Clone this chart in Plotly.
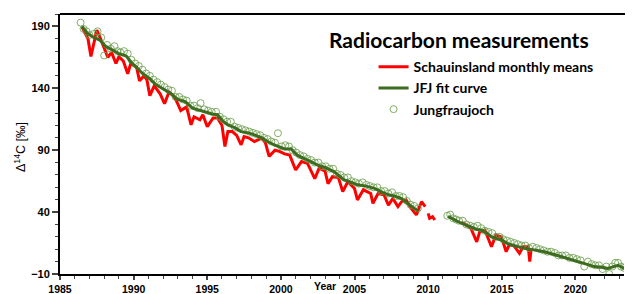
import plotly.graph_objects as go

# Schauinsland monthly means (None = data gap)
sch_year = [1986.5, 1986.7, 1986.9, 1987.1, 1987.3, 1987.5, 1987.8, 1988.0, 1988.25, 1988.5,
            1988.8, 1989.0, 1989.3, 1989.6, 1989.8, 1990.2, 1990.4, 1990.7, 1990.9, 1991.1,
            1991.4, 1991.8, 1992.1, 1992.4, 1992.7, 1992.9, 1993.2, 1993.6, 1993.9, 1994.1,
            1994.5, 1994.7, 1995.0, 1995.4, 1995.7, 1996.0, 1996.2, 1996.4, 1996.7, 1997.0,
            1997.3, 1997.5, 1997.8, 1998.2, 1998.7, 1998.95, 1999.2, 1999.6, 1999.9, 2000.25,
            2000.6, 2001.0, 2001.4, 2001.8, 2002.3, 2002.6, 2003.0, 2003.2, 2003.5, 2003.9,
            2004.2, 2004.55, 2005.0, 2005.2, 2005.6, 2006.1, 2006.25, 2006.6, 2007.0, 2007.3,
            2007.6, 2007.95, 2008.2, 2008.5, 2008.85, 2009.2, 2009.55, 2009.8, 2009.9,
            2010.0, 2010.1, 2010.3, 2010.45, 2011.0,
            2012.25, 2012.6, 2012.9, 2013.3, 2013.5, 2013.85, 2014.3, 2014.6, 2014.97, 2015.3,
            2015.5, 2015.65, 2015.85, 2016.2, 2016.45, 2016.8, 2016.9, 2017.0]
sch_val = [189.5, 184, 180, 165.7, 176, 187, 178.7, 172, 165, 169,
           160, 165.5, 162, 151.7, 160, 157, 146, 150, 147, 134,
           142, 135.5, 127.5, 137, 134, 130, 122, 125, 110.5, 117,
           114.5, 118.6, 109, 116, 116, 110, 93, 105, 105, 102,
           94.3, 101, 100, 97, 99.7, 96, 85, 90, 89, 87,
           86, 74, 80.8, 79.5, 67, 75.5, 73, 63, 68.6, 68,
           56.5, 64.6, 59, 49.8, 58, 55, 47, 55, 54, 45.7,
           51, 44.4, 48.4, 49.8, 43, 37.7, 48.4, 44.4, None,
           39, 35, 36.3, 33.6, None,
           32, 29.6, 27, 16, 24, 25.5, 12, 21.5, 20, 8,
           13.4, 13.4, 12.5, 6.7, 12, 12, 0, 10.7]

# JFJ fit curve
fit_year = [1986.5, 1986.9, 1987.3, 1987.7, 1988.1, 1988.6, 1989.0, 1989.5, 1989.9, 1990.2,
            1990.6, 1991.1, 1991.5, 1992.0, 1992.5, 1993.0, 1993.5, 1994.0, 1994.4, 1995.0,
            1995.4, 1995.7, 1996.1, 1996.4, 1996.9, 1997.3, 1997.8, 1998.2, 1998.7, 1999.1,
            1999.6, 2000.25, 2000.7, 2001.1, 2001.6, 2002.0, 2002.5, 2003.0, 2003.6, 2004.0,
            2004.3, 2004.8, 2005.2, 2005.8, 2006.4, 2006.9, 2007.3, 2007.7, 2008.2, 2008.6,
            2009.1, 2009.3, 2010.0,
            2011.35, 2011.6, 2012.0, 2012.25, 2012.9, 2013.3, 2013.6, 2014.0, 2014.3, 2014.97,
            2015.5, 2016.0, 2016.55, 2017.2, 2017.9, 2018.5, 2019.05, 2019.6, 2020.2, 2020.8,
            2021.3, 2021.8, 2022.2, 2022.6, 2022.9, 2023.35]
fit_val = [190, 184, 181, 179, 174, 170.6, 168, 166, 160, 157,
           152, 147.7, 143, 139.6, 136, 131, 129.3, 124, 122.6, 121,
           119, 118.6, 113, 110.5, 108, 105, 104, 102.4, 100, 97,
           94, 91, 91, 86, 83.5, 81, 78, 76, 72.7, 69,
           66, 64, 62, 61, 59, 56, 54, 53, 51, 47,
           43, 41, None,
           36.5, 35, 33, 31, 28, 26, 25.5, 23, 20, 17.5,
           14, 12.5, 10.7, 9.5, 8, 6, 4, 2.5, 0, -2,
           -4, -4.5, -5.5, -4, -3, -5.5]

# Jungfraujoch measurements
jfj_year = [1986.4, 1986.6, 1986.8, 1987.0, 1987.3, 1987.55, 1987.8, 1988.0, 1988.2, 1988.45,
            1988.7, 1988.9, 1989.1, 1989.35, 1989.6, 1989.85, 1990.1, 1990.35, 1990.6, 1990.85,
            1991.1, 1991.35, 1991.6, 1991.85, 1992.1, 1992.35, 1992.6, 1992.85, 1993.1, 1993.35,
            1993.6, 1993.85, 1994.1, 1994.35, 1994.55, 1994.8, 1995.05, 1995.3, 1995.6, 1995.85,
            1996.1, 1996.35, 1996.6, 1996.85, 1997.1, 1997.35, 1997.6, 1997.85, 1998.1, 1998.35,
            1998.6, 1998.85, 1999.1, 1999.35, 1999.6, 1999.8, 2000.05, 2000.3, 2000.55, 2000.8,
            2001.05, 2001.3, 2001.55, 2001.8, 2002.05, 2002.3, 2002.55, 2002.8, 2003.05, 2003.3,
            2003.55, 2003.8, 2004.05, 2004.3, 2004.55, 2004.8, 2005.05, 2005.3, 2005.55, 2005.8,
            2006.05, 2006.3, 2006.55, 2006.8, 2007.05, 2007.3, 2007.55, 2007.8, 2008.05, 2008.3,
            2008.55, 2008.8, 2009.05, 2009.3,
            2011.3, 2011.5, 2011.7, 2011.9, 2012.1, 2012.35, 2012.6, 2012.85, 2013.1, 2013.35,
            2013.6, 2013.85, 2014.1, 2014.35, 2014.6, 2014.85, 2015.1, 2015.35, 2015.6, 2015.85,
            2016.1, 2016.35, 2016.6, 2016.85, 2017.1, 2017.35, 2017.6, 2017.85, 2018.1, 2018.35,
            2018.6, 2018.85, 2019.1, 2019.35, 2019.6, 2019.85, 2020.1, 2020.35, 2020.6, 2020.85,
            2021.1, 2021.35, 2021.6, 2021.85, 2022.1, 2022.3, 2022.5, 2022.7, 2022.9, 2023.1,
            2023.3]
jfj_val = [193, 188, 186, 183, 184, 186, 181, 166.5, 175, 172,
           174, 170, 169, 170, 168, 163, 160, 158, 155, 152,
           150, 147, 145, 143, 141, 139, 138, 133, 133, 131,
           130, 126, 126, 124, 128, 123, 122, 121, 121, 117,
           115, 113, 113, 109, 108, 107, 106, 105, 104, 103,
           102, 100, 99, 97, 96, 103.7, 93, 94, 93, 90,
           88, 86, 85, 83, 82, 80, 80, 77, 77, 75,
           75, 71, 70, 68, 68, 65, 64, 63, 64, 62,
           61, 60, 60, 57, 57, 55, 56, 53, 53, 52,
           49, 46, 45, 43,
           37, 38, 35, 34, 33, 33, 30, 29, 28, 29,
           27, 25, 24, 23, 20, 20, 18, 17, 16, 15,
           14, 13, 13, 11, 12, 11, 10, 9, 8, 8,
           7, 5, 5, 5, 3, 3, 2, 1, -4, 0,
           -2, -3, -3, -6, -4, -10, -4, -1, -1, -4,
           -5]

y_ticks = [-10, 40, 90, 140, 190]
x_ticks = [1985, 1990, 1995, 2000, 2005, 2010, 2015, 2020]

fig = go.Figure()
fig.add_trace(go.Scatter(x=sch_year, y=sch_val, mode="lines", name="Schauinsland monthly means",
                         line=dict(color="#ff0000", width=3), connectgaps=False, legendrank=1))
fig.add_trace(go.Scatter(x=jfj_year, y=jfj_val, mode="markers", name="Jungfraujoch",
                         marker=dict(symbol="circle-open", size=7, color="rgba(110,160,80,0.85)",
                                     line=dict(width=1)), legendrank=3))
fig.add_trace(go.Scatter(x=fit_year, y=fit_val, mode="lines", name="JFJ fit curve",
                         line=dict(color="#3d6b1f", width=3), connectgaps=False, legendrank=2))

# page body has an 8px default margin: figure is sized to fill the rest of the window
fig.update_layout(
    width=625, height=286,
    margin=dict(l=52, r=9, t=6, b=20),
    paper_bgcolor="white", plot_bgcolor="white",
    font=dict(family="Liberation Sans", color="black", size=11),
    showlegend=True,
    legend=dict(x=0.556, y=0.857, xanchor="left", yanchor="top", bgcolor="rgba(0,0,0,0)",
                font=dict(family="Lato", size=14, weight="bold"), tracegroupgap=0),
    xaxis=dict(range=[1985, 2023.3], tickvals=x_ticks, ticks="outside", ticklen=4, tickwidth=1.5,
               showgrid=False, zeroline=False, showline=True, linecolor="black", linewidth=2,
               tickfont=dict(size=10.5, weight="bold"), automargin=False,
               minor=dict(dtick=1, ticks="outside", ticklen=3, tickwidth=1.2, showgrid=False)),
    yaxis=dict(range=[-10, 200], tickvals=y_ticks, ticks="outside", ticklen=6, tickwidth=1.5,
               showgrid=False, zeroline=False, showline=True, linecolor="black", linewidth=2,
               tickfont=dict(size=11, weight="bold"), automargin=False,
               minor=dict(dtick=10, tick0=0, ticks="outside", ticklen=3, tickwidth=1.2, showgrid=False)),
)

fig.add_shape(type="line", xref="paper", yref="paper", x0=0, x1=1.014, y0=1, y1=1,
              line=dict(color="black", width=2))
fig.add_annotation(text="<b>Radiocarbon measurements</b>", xref="paper", yref="paper",
                   x=0.473, y=0.90, xanchor="left", yanchor="middle", showarrow=False,
                   font=dict(family="Lato", size=21, color="black"))
fig.add_annotation(text="Year", x=2003.0, xref="x", yref="paper", y=0, yshift=-4,
                   xanchor="center", yanchor="top", showarrow=False,
                   font=dict(size=10.5, weight="bold"))
fig.add_annotation(text="Δ<sup>14</sup>C [‰]", xref="paper", yref="paper", x=-0.072, y=0.49,
                   textangle=-90, xanchor="center", yanchor="middle", showarrow=False,
                   font=dict(size=12.5))

fig.write_html("out.html")
